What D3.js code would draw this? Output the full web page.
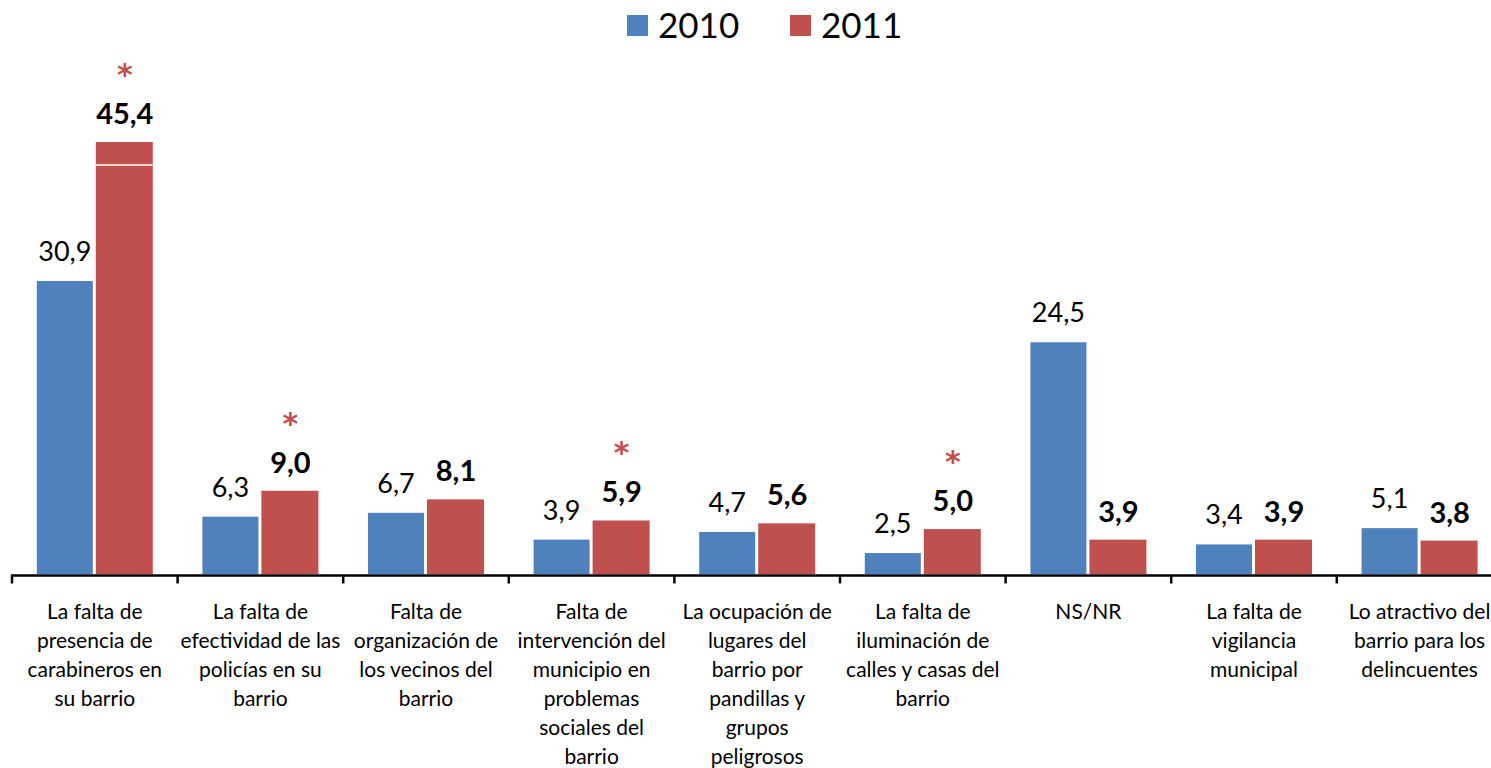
<!DOCTYPE html>
<html><head><meta charset="utf-8">
<script src="https://cdn.jsdelivr.net/npm/d3@7"></script>
<style>body{margin:0;background:#fff}svg{display:block}</style>
</head><body>
<svg id="chart" width="1491" height="768"></svg>
<script>
const categories = [
  ["La falta de","presencia de","carabineros en","su barrio"],
  ["La falta de","efectividad de las","policías en su","barrio"],
  ["Falta de","organización de","los vecinos del","barrio"],
  ["Falta de","intervención del","municipio en","problemas","sociales del","barrio"],
  ["La ocupación de","lugares del","barrio por","pandillas y","grupos","peligrosos"],
  ["La falta de","iluminación de","calles y casas del","barrio"],
  ["NS/NR"],
  ["La falta de","vigilancia","municipal"],
  ["Lo atractivo del","barrio para los","delincuentes"]
];
const values2010 = [30.9, 6.3, 6.7, 3.9, 4.7, 2.5, 24.5, 3.4, 5.1];
const values2011 = [45.4, 9.0, 8.1, 5.9, 5.6, 5.0, 3.9, 3.9, 3.8];
const significant2011 = [true, true, false, true, false, true, false, false, false];
const seriesNames = ["2010", "2011"];
const colors = ["#4F81BD", "#C0504D"];
const fmt = v => v.toFixed(1).replace(".", ",");
const font = "Lato, 'Open Sans', sans-serif";

const svg = d3.select("#chart");
const axisY = 574;
const x0 = d3.scaleBand().domain(d3.range(categories.length)).range([12, 12 + 165.6*9]).paddingInner(0).paddingOuter(0);
const y = d3.scaleLinear().domain([0, 45.4]).range([577, 142]);

// bars
const barW = 56, gap = 3;
const g = svg.append("g");
categories.forEach((c, i) => {
  const cx = x0(i) + x0.bandwidth()/2;
  const xb = cx - gap/2 - barW - 0.5;
  const xr = cx + gap/2 - 0.5;
  g.append("rect").attr("x", xb).attr("y", y(values2010[i])).attr("width", barW).attr("height", axisY - y(values2010[i])).attr("fill", colors[0]);
  g.append("rect").attr("x", xr).attr("y", y(values2011[i])).attr("width", barW+1).attr("height", axisY - y(values2011[i])).attr("fill", colors[1]);
  g.append("text").attr("x", xb + barW/2).attr("y", y(values2010[i]) - 20).attr("text-anchor", "middle")
    .attr("font-family", font).attr("font-size", 27).attr("fill", "#000").text(fmt(values2010[i]));
  g.append("text").attr("x", xr + barW/2 + 1).attr("y", y(values2011[i]) - 18).attr("text-anchor", "middle")
    .attr("font-family", font).attr("font-weight", "bold").attr("font-size", 29).attr("fill", "#000").text(fmt(values2011[i]));
  if (significant2011[i]) {
    g.append("text").attr("x", xr + barW/2 + 1).attr("y", y(values2011[i]) - 57).attr("text-anchor", "middle")
      .attr("font-family", "'DejaVu Sans', sans-serif").attr("font-weight", "bold").attr("font-size", 30).attr("fill", colors[1]).text("*");
  }
});
// white break line in tallest bar
const iMax = d3.maxIndex(values2011);
svg.append("line").attr("x1", x0(iMax) + x0.bandwidth()/2 + gap/2 - 0.5).attr("x2", x0(iMax) + x0.bandwidth()/2 + gap/2 + barW + 0.5)
  .attr("y1", 165).attr("y2", 165).attr("stroke", "#fff").attr("stroke-width", 1.5);

// axis
const axisG = svg.append("g").attr("transform", `translate(0,${axisY + 1.5})`);
axisG.append("line").attr("x1", 11).attr("x2", 1491).attr("y1", 0).attr("y2", 0).attr("stroke", "#000").attr("stroke-width", 2.5);
d3.range(categories.length + 1).forEach(i => {
  const xt = 12 + i*165.6;
  axisG.append("line").attr("x1", xt).attr("x2", xt).attr("y1", 0).attr("y2", 8).attr("stroke", "#000").attr("stroke-width", 2.5);
});
categories.forEach((lines, i) => {
  const cx = x0(i) + x0.bandwidth()/2;
  const t = svg.append("text").attr("text-anchor", "middle").attr("font-family", font).attr("font-size", 21).attr("fill", "#000");
  lines.forEach((l, k) => t.append("tspan").attr("x", cx).attr("y", 619 + k*29).text(l));
});

// legend
const leg = svg.append("g");
const legPos = [[627, 658], [790, 821]];
seriesNames.forEach((s, i) => {
  leg.append("rect").attr("x", legPos[i][0]).attr("y", 15).attr("width", 21).attr("height", 21).attr("fill", colors[i]);
  leg.append("text").attr("x", legPos[i][1]).attr("y", 38).attr("font-family", font).attr("font-size", 35).attr("fill", "#000").text(s);
});
</script>
</body></html>
